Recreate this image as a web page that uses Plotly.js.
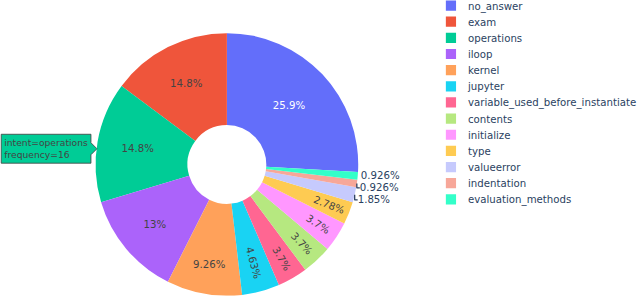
<!DOCTYPE html>
<html>
<head>
<meta charset="utf-8">
<script src="https://cdn.plot.ly/plotly-3.0.1.min.js"></script>
<style>
html, body { margin: 0; padding: 0; overflow: hidden; background: #fff; }
#wrap { width: 640px; height: 296px; overflow: hidden; position: relative; }
#chart { width: 753px; height: 348px; transform: scale(0.85); transform-origin: 0 0; }
</style>
</head>
<body>
<div id="wrap"><div id="chart"></div></div>
<script>
const intents = ["no_answer", "exam", "operations", "iloop", "kernel", "jupyter",
  "variable_used_before_instantiate", "contents", "initialize", "type",
  "valueerror", "indentation", "evaluation_methods"];
const frequency = [28, 16, 16, 14, 10, 5, 4, 4, 4, 3, 2, 1, 1];
const colorway = ["#636efa", "#EF553B", "#00cc96", "#ab63fa", "#FFA15A",
  "#19d3f3", "#FF6692", "#B6E880", "#FF97FF", "#FECB52"];
const hoveredIntent = "operations";

const gd = document.getElementById('chart');
const data = [{
  type: 'pie',
  labels: intents,
  values: frequency,
  hole: 0.3,
  textinfo: 'percent',
  domain: {x: [0, 0.709], y: [0, 1]},
  hovertemplate: 'intent=%{label}<br>frequency=%{value}<extra></extra>',
  hoverlabel: {align: 'left'}
}];
const layout = {
  width: 753, height: 348,
  margin: {l: 0, r: 0, t: 39, b: 0, autoexpand: false},
  colorway: colorway,
  font: {family: '"DejaVu Sans", verdana, arial, sans-serif', size: 12, color: '#2a3f5f'},
  paper_bgcolor: '#fff',
  showlegend: true,
  hoverlabel: {align: 'left', font: {family: '"DejaVu Sans", verdana, arial, sans-serif', size: 10.8}},
  legend: {x: 0.678, y: 1.152, xanchor: 'left', yanchor: 'top', bgcolor: 'rgba(0,0,0,0)', maxheight: 1000}
};
Plotly.newPlot(gd, data, layout, {displayModeBar: false}).then(function () {
  const idx = intents.indexOf(hoveredIntent);
  const slices = gd.querySelectorAll('g.slice');
  const s = slices[idx];
  if (s) {
    const r = s.getBoundingClientRect();
    s.dispatchEvent(new MouseEvent('mouseover', {bubbles: true, clientX: r.left + 10, clientY: r.top + r.height / 2}));
  }
});
</script>
</body>
</html>
